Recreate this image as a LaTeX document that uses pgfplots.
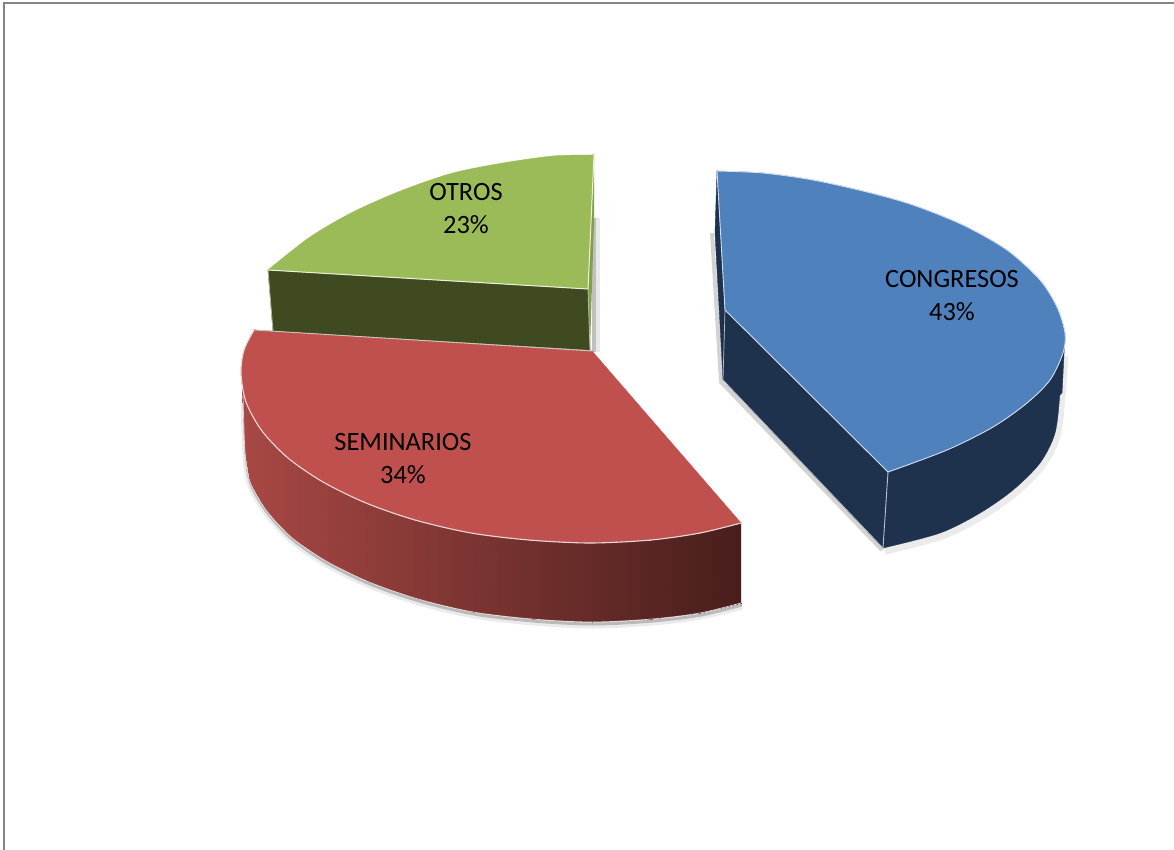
\documentclass[border=0pt]{standalone}
\usepackage{fontspec}
\setmainfont{Carlito}
\usepackage{pgfplots}
\usepackage{pgfplotstable}
\pgfplotsset{compat=1.18}

\definecolor{bluetop}{HTML}{4F81BD}
\definecolor{blueside}{HTML}{1E324E}
\definecolor{greentop}{HTML}{9BBB59}
\definecolor{greenside}{HTML}{3F4A21}
\definecolor{redtop}{HTML}{C0504D}
\definecolor{rededge}{HTML}{E8D8D8}

% outlines in pixels
\pgfplotstableread{
x y
717 171
763 173
813 180
867 192
913 205
963 225
1007 250
1040 280
1057 307
1065 333
1063 353
1050 380
1027 403
993 427
947 450
888 472
}\bluearc
\pgfplotstableread{
x y
883 548
940 533
980 513
1013 490
1040 463
1055 433
1060 393
1063 353
}\bluelow
\pgfplotstableread{
x y
594 155
553 156
503 163
453 173
403 190
353 212
310 237
268 270
}\greenarc
\pgfplotstableread{
x y
254 330
244 350
241 373
246 402
262 431
288 458
323 482
366 503
415 520
471 533
529 540
590 543
651 540
700 533
741 523
}\redarc
\pgfplotstableread{
x y
243 395
245 452
250 482
266 510
291 537
326 561
369 582
418 599
473 612
532 619
592 622
652 619
700 613
741 603
}\redlow
% side of the red slice, one quad per row group
\pgfplotstableread{
x y
241 373
245 452
250 482
246 402
246 402
250 482
266 510
262 431
262 431
266 510
291 537
288 458
288 458
291 537
326 561
323 482
323 482
326 561
369 582
366 503
366 503
369 582
418 599
415 520
415 520
418 599
473 612
471 533
471 533
473 612
532 619
529 540
529 540
532 619
592 622
590 543
590 543
592 622
652 619
651 540
651 540
652 619
700 613
700 533
700 533
700 613
741 603
741 523
}\redside

\begin{document}
\begin{tikzpicture}
\begin{axis}[
    hide axis,
    scale only axis,
    width=1174pt,
    height=850pt,
    xmin=0, xmax=1174,
    ymin=0, ymax=850,
    y dir=reverse,
    colormap={redside}{rgb255=(168,72,68) rgb255=(72,30,28)},
    every axis plot/.append style={forget plot},
]
% hide axis drops the box from the page size, so keep the full area
\path (axis cs:0,0) -- (axis cs:1174,850);

% frame
\addplot[color=black!48, line width=2pt] coordinates {(4,850) (4,3) (1174,3)};

% OTROS
\addplot[draw=black!35, opacity=0.25, line width=8pt] coordinates {(596,218) (596,352)};
\addplot[draw=black!40, opacity=0.5, line width=4pt] coordinates {(594,218) (594,352)};
\addplot[fill=greenside, draw=greenside] coordinates {(268,270) (588,289) (590,350) (273,331)} -- cycle;
\addplot[fill=greentop!75!greenside, draw=none] coordinates {(594,155) (588,289) (590,350) (594,220)} -- cycle;
\addplot[fill=greentop, draw=greentop, line width=0.4pt, smooth] table {\greenarc};
\addplot[fill=greentop, draw=greentop, line width=0.4pt] coordinates {(594,155) (588,289) (268,270)} -- cycle;
\addplot[draw=greentop, line width=1.5pt] coordinates {(594,155) (268,270)};
\addplot[draw=white!80!greentop, line width=1pt] coordinates {(268,270) (588,289) (594,155)};
\addplot[draw=white!60!greenside, line width=0.8pt] coordinates {(268,270) (273,331)};
\addplot[draw=white!60!greenside, line width=0.8pt] coordinates {(588,289) (590,350)};

% SEMINARIOS
\addplot[draw=black!40, opacity=0.2, line width=7pt, smooth] table[x expr=\thisrow{x}+1, y expr=\thisrow{y}+3] {\redlow};
\addplot[draw=black!50, opacity=0.45, line width=3pt, smooth] table[x expr=\thisrow{x}+1, y expr=\thisrow{y}+2] {\redlow};
\addplot[patch, patch type=rectangle, shader=interp, point meta=x, point meta min=241, point meta max=741] table {\redside};
\addplot[draw=rededge, line width=0.7pt, smooth] table {\redlow};
\addplot[draw=rededge, line width=0.7pt] coordinates {(741,523) (741,603)};
\addplot[fill=redtop, draw=redtop, line width=0.4pt, smooth] table {\redarc};
\addplot[fill=redtop, draw=redtop, line width=0.4pt] coordinates {(254,330) (592,351) (741,523)} -- cycle;
\addplot[draw=redtop, line width=1.5pt] coordinates {(254,330) (741,523)};
\addplot[draw=rededge, line width=1.1pt, smooth] table[skip first n=2] {\redarc};
\addplot[draw=white!70!greenside, line width=0.9pt] coordinates {(254,330) (592,351)};

% CONGRESOS
\addplot[draw=black!40, opacity=0.2, line width=7pt, smooth] table[x expr=\thisrow{x}+2, y expr=\thisrow{y}+3] {\bluelow};
\addplot[draw=black!50, opacity=0.35, line width=4pt] coordinates {(712,233) (721,382) (882,550)};
\addplot[fill=blueside, draw=blueside, line width=0.4pt, smooth] table {\bluelow};
\addplot[fill=blueside, draw=blueside] coordinates {(725,310) (888,472) (883,548) (723,380)} -- cycle;
\addplot[fill=blueside, draw=blueside] coordinates {(888,472) (883,548) (1062,393) (1065,335)} -- cycle;
\addplot[fill=blueside, draw=blueside] coordinates {(717,171) (725,310) (723,380) (715,233)} -- cycle;
\addplot[fill=bluetop, draw=bluetop, line width=0.4pt, smooth] table {\bluearc};
\addplot[fill=bluetop, draw=bluetop, line width=0.4pt] coordinates {(717,171) (725,310) (888,472)} -- cycle;
\addplot[draw=bluetop, line width=1.5pt] coordinates {(717,171) (888,472)};
\addplot[draw=white!75!bluetop, line width=0.9pt] coordinates {(717,171) (725,310) (888,472)};
\addplot[draw=white!75!bluetop, line width=0.9pt, smooth] table[skip first n=9] {\bluearc};
\addplot[draw=white!70!blueside, line width=0.9pt] coordinates {(888,472) (883,548)};
\addplot[draw=white!70!blueside, line width=0.7pt] coordinates {(723,380) (883,548)};
\addplot[draw=white!70!blueside, line width=0.7pt] coordinates {(725,310) (723,380)};

% labels
\node[align=center, font=\fontsize{26.4}{33}\selectfont] at (axis cs:952,296) {CONGRESOS\\43\%};
\node[align=center, font=\fontsize{26.4}{33}\selectfont] at (axis cs:466,209) {OTROS\\23\%};
\node[align=center, font=\fontsize{26.4}{33}\selectfont] at (axis cs:403,459) {SEMINARIOS\\34\%};
\end{axis}
\end{tikzpicture}
\end{document}
